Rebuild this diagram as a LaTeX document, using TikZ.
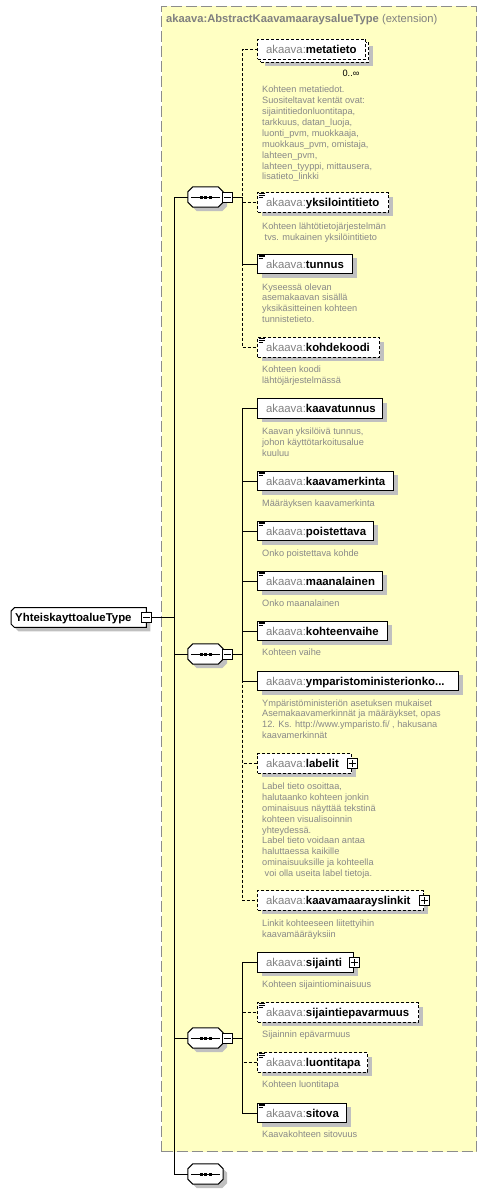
\documentclass[tikz,border=0pt]{standalone}
\usepackage{fontspec}
\setmainfont{Liberation Sans}
\usetikzlibrary{shadows}
\pgfdeclarelayer{back}
\pgfdeclarelayer{bg}
\pgfsetlayers{back,bg,main}
\definecolor{yel}{RGB}{255,255,195}
\definecolor{shadowc}{RGB}{192,192,192}
\definecolor{txtg}{RGB}{128,128,128}
\definecolor{descg}{RGB}{136,136,136}
\definecolor{extg}{RGB}{140,140,140}
\newcommand\elname[1]{\hspace*{8.5pt}{\color{txtg}akaava:}\textbf{#1}}
\newcommand\minusmark[1]{\draw[line width=0.9pt] ([xshift=2pt]#1.west) -- ([xshift=-2pt]#1.east);}
\newcommand\plusmark[1]{\draw[line width=0.9pt] ([xshift=2pt]#1.west) -- ([xshift=-2pt]#1.east); \draw[line width=0.9pt] ([yshift=-2pt]#1.north) -- ([yshift=2pt]#1.south);}
\newcommand\iconmark[1]{%
  \draw[iconl] ([xshift=1.5pt,yshift=-1.2pt]#1.north west) -- ++(6,0);
  \draw[iconl] ([xshift=1.5pt,yshift=-3pt]#1.north west) -- ++(6,0);
  \draw[iconl] ([xshift=1.5pt,yshift=-4.8pt]#1.north west) -- ++(4.5,0);}
% octagon outline of a sequence node (drawn on the bg layer)
\newcommand\octo[1]{%
  \begin{pgfonlayer}{bg}
  \path[outl] ([xshift=5pt]#1.north west) -- ([xshift=-5pt]#1.north east) -- ([yshift=-5pt]#1.north east)
    -- ([yshift=5pt]#1.south east) -- ([xshift=-5pt]#1.south east) -- ([xshift=5pt]#1.south west)
    -- ([yshift=5pt]#1.south west) -- ([yshift=-5pt]#1.north west) -- cycle;
  \end{pgfonlayer}
  \draw[line width=1pt] ([xshift=3pt]#1.west) -- ([xshift=-3pt]#1.east);
  \foreach \dx in {-4.5,0,4.5} {\fill ([xshift=\dx pt]#1.center) +(-1.5,-1.5) rectangle +(1.5,1.5);}}
\tikzset{
  shd/.style={general shadow={fill=shadowc, shadow xshift=4pt, shadow yshift=-4pt}},
  outl/.style={draw, fill=white, line width=1pt, shd},
  elemb/.style={draw, fill=white, line width=1pt, minimum height=19.5pt, inner sep=0pt, anchor=west,
    text height=9pt, text depth=1pt, align=left, font=\fontsize{11.4}{13}\selectfont},
  elem/.style={elemb, shd},
  optb/.style={dash pattern=on 3pt off 2pt},
  desc/.style={anchor=north west, inner sep=0pt, align=left, text=descg, font=\fontsize{9.2}{10.9}\selectfont},
  seqbox/.style={rectangle, minimum width=35pt, minimum height=20pt, inner sep=0pt},
  pmbox/.style={draw, fill=white, line width=1pt, minimum size=10pt, inner sep=0pt},
  conn/.style={line width=1pt},
  optc/.style={line width=1pt, dash pattern=on 3pt off 2pt},
  iconl/.style={line width=0.8pt},
  extbox/.style={draw=extg, fill=yel, line width=1pt, dash pattern=on 11pt off 4pt, inner sep=0pt, anchor=north west},
}
\begin{document}
\begin{tikzpicture}[x=1pt,y=-1pt]
\useasboundingbox (0,0) rectangle (488,1194);
% extension container
\begin{pgfonlayer}{back}
\node[extbox, minimum width=315pt, minimum height=1145.5pt] (ext) at (161,5.5) {};
\end{pgfonlayer}
\node[anchor=base west, inner sep=0pt, text=txtg, font=\fontsize{11.2}{13}\selectfont] (ttl) at (166,22.5)
  {\textbf{akaava:AbstractKaavamaaraysalueType} (extension)};

% root
\node[rectangle, inner sep=0pt, minimum height=19.5pt, text width=135pt, align=left,
  text height=9pt, text depth=1pt, font=\fontsize{11.4}{13}\selectfont, anchor=west] (root) at (11,617.5)
  {\hspace*{4pt}\textbf{YhteiskayttoalueType}};
\begin{pgfonlayer}{bg}
\path[outl] ([xshift=3.5pt]root.north west) -- (root.north east) -- (root.south east)
  -- ([xshift=3.5pt]root.south west) -- ([yshift=3.5pt]root.south west) -- ([yshift=-3.5pt]root.north west) -- cycle;
\end{pgfonlayer}
\node[pmbox] (rm) at (root.east) {};
\minusmark{rm}

% sequences
\node[seqbox] (s1) at (205.5,197) {};
\node[seqbox] (s2) at (205.5,654) {};
\node[seqbox] (s3) at (205.5,1038) {};
\node[seqbox] (s4) at (205.5,1174) {};
\octo{s1}\octo{s2}\octo{s3}\octo{s4}
\node[pmbox] (m1) at (227.7,197) {};
\node[pmbox] (m2) at (227.7,654) {};
\node[pmbox] (m3) at (227.7,1038) {};
\minusmark{m1}\minusmark{m2}\minusmark{m3}

% elements, group 1
\node[elem, optb, text width=108pt, minimum height=20pt] (e1b) at (260,52) {};
\node[elemb, optb, text width=108pt, minimum height=20pt] (e1) at (257,49) {\elname{metatieto}};
\node[inner sep=0pt, font=\fontsize{9.2}{11}\selectfont] (e1m) at (351,73) {0..∞};
\node[desc] (d1) at (262,84.9) {\strut Kohteen metatiedot.\\Suositeltavat kentät ovat:\\sijaintitiedonluontitapa,\\tarkkuus, datan\_luoja,\\luonti\_pvm, muokkaaja,\\muokkaus\_pvm, omistaja,\\lahteen\_pvm,\\lahteen\_tyyppi, mittausera,\\lisatieto\_linkki};

\node[elem, optb, text width=131pt] (e2) at (257,202.5) {\elname{yksilointitieto}};
\node[desc] (d2) at (262,221.6) {\strut Kohteen lähtötietojärjestelmän\\\hspace*{2.5pt}tvs. mukainen yksilöintitieto};
\node[elem, text width=95pt] (e3) at (257,264) {\elname{tunnus}};
\node[desc] (d3) at (262,282.2) {\strut Kyseessä olevan\\asemakaavan sisällä\\yksikäsitteinen kohteen\\tunnistetieto.};
\node[elem, optb, text width=122pt] (e4) at (257,347.5) {\elname{kohdekoodi}};
\node[desc] (d4) at (262,364.9) {\strut Kohteen koodi\\lähtöjärjestelmässä};

% elements, group 2
\node[elem, text width=125pt] (e5) at (257,408.5) {\elname{kaavatunnus}};
\node[desc] (d5) at (262,426.6) {\strut Kaavan yksilöivä tunnus,\\johon käyttötarkoitusalue\\kuuluu};
\node[elem, text width=136pt] (e6) at (257,481) {\elname{kaavamerkinta}};
\node[desc] (d6) at (262,498.2) {\strut Määräyksen kaavamerkinta};
\node[elem, text width=116pt] (e7) at (257,531) {\elname{poistettava}};
\node[desc] (d7) at (262,548.2) {\strut Onko poistettava kohde};
\node[elem, text width=125pt] (e8) at (257,581) {\elname{maanalainen}};
\node[desc] (d8) at (262,598.2) {\strut Onko maanalainen};
\node[elem, text width=130pt] (e9) at (257,631) {\elname{kohteenvaihe}};
\node[desc] (d9) at (262,647.6) {\strut Kohteen vaihe};
\node[elem, text width=201pt] (e10) at (257,681) {\elname{ymparistoministerionko...}};
\node[desc] (d10) at (262,698.2) {\strut Ympäristöministeriön asetuksen mukaiset\\Asemakaavamerkinnät ja määräykset, opas\\12. Ks. http://www.ymparisto.fi/ , hakusana\\kaavamerkinnät};
\node[elem, optb, text width=94pt] (e11) at (257,763.5) {\elname{labelit}};
\node[pmbox] (p11) at (e11.east) {};
\plusmark{p11}
\node[desc] (d11) at (262,781.6) {\strut Label tieto osoittaa,\\halutaanko kohteen jonkin\\ominaisuus näyttää tekstinä\\kohteen visualisoinnin\\yhteydessä.\\Label tieto voidaan antaa\\haluttaessa kaikille\\ominaisuuksille ja kohteella\\\hspace*{2.5pt}voi olla useita label tietoja.};
\node[elem, optb, text width=166pt] (e12) at (257,900.5) {\elname{kaavamaarayslinkit}};
\node[pmbox] (p12) at (e12.east) {};
\plusmark{p12}
\node[desc] (d12) at (262,918.9) {\strut Linkit kohteeseen liitettyihin\\kaavamääräyksiin};

% elements, group 3
\node[elem, text width=96pt] (e13) at (257,962.5) {\elname{sijainti}};
\node[pmbox] (p13) at (e13.east) {};
\plusmark{p13}
\node[desc] (d13) at (262,979.9) {\strut Kohteen sijaintiominaisuus};
\node[elem, optb, text width=161pt] (e14) at (257,1012.5) {\elname{sijaintiepavarmuus}};
\node[desc] (d14) at (262,1029.9) {\strut Sijainnin epävarmuus};
\node[elem, optb, text width=110pt] (e15) at (257,1062.5) {\elname{luontitapa}};
\node[desc] (d15) at (262,1079.9) {\strut Kohteen luontitapa};
\node[elem, text width=89pt] (e16) at (257,1113) {\elname{sitova}};
\node[desc] (d16) at (262,1129.9) {\strut Kaavakohteen sitovuus};

\iconmark{e2}\iconmark{e3}\iconmark{e4}\iconmark{e6}\iconmark{e7}\iconmark{e8}\iconmark{e9}
\iconmark{e14}\iconmark{e15}\iconmark{e16}

% trunk
\draw[conn] (rm.east) -- ++(22.3,0) |- (s4.west);
\draw[conn] (rm.east) -- ++(22.3,0) |- (s1.west);
\draw[conn] (rm.east) -- ++(22.3,0) |- (s2.west);
\draw[conn] (rm.east) -- ++(22.3,0) |- (s3.west);

% group 1 connectors
\draw[optc] (m1.east) -- ++(9.3,0) |- (e1.west);
\draw[optc] (m1.east) -- ++(9.3,0) |- (e4.west);
\draw[optc] (m1.east) -- ++(9.3,0) |- (e2.west);
\draw[conn] (m1.east) -- ++(9.3,0) |- (e3.west);

% group 2 connectors
\draw[optc] (m2.east) -- ++(9.3,0) |- (e12.west);
\draw[optc] (m2.east) -- ++(9.3,0) |- (e11.west);
\draw[conn] (m2.east) -- ++(9.3,0) |- (e5.west);
\draw[conn] (m2.east) -- ++(9.3,0) |- (e6.west);
\draw[conn] (m2.east) -- ++(9.3,0) |- (e7.west);
\draw[conn] (m2.east) -- ++(9.3,0) |- (e8.west);
\draw[conn] (m2.east) -- ++(9.3,0) |- (e9.west);
\draw[conn] (m2.east) -- ++(9.3,0) |- (e10.west);

% group 3 connectors
\draw[optc] (m3.east) -- ++(9.3,0) |- (e14.west);
\draw[optc] (m3.east) -- ++(9.3,0) |- (e15.west);
\draw[conn] (m3.east) -- ++(9.3,0) |- (e13.west);
\draw[conn] (m3.east) -- ++(9.3,0) |- (e16.west);
\end{tikzpicture}
\end{document}
